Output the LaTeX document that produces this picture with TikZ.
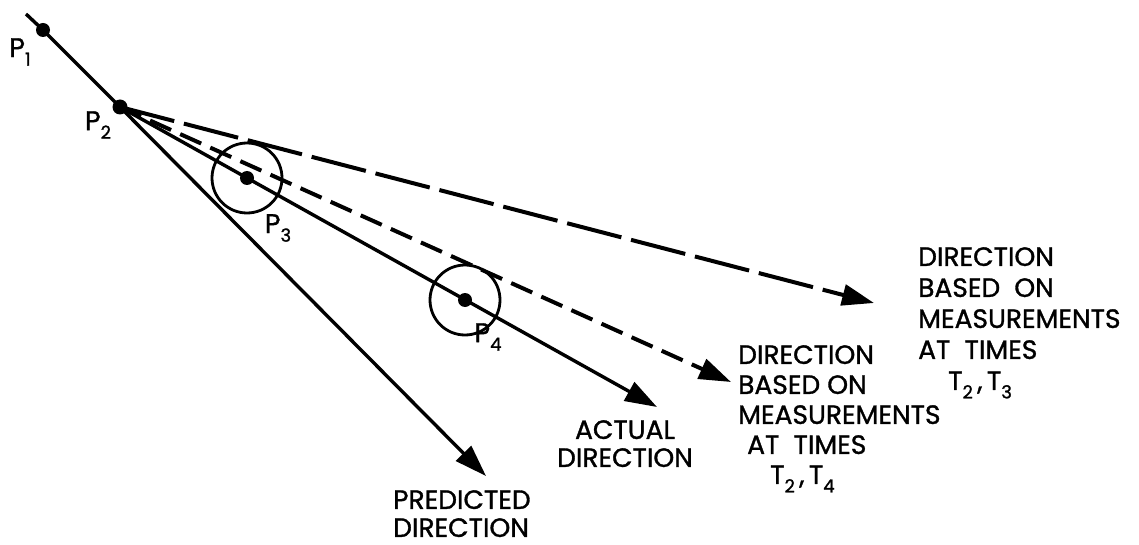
\documentclass[tikz,border=0pt]{standalone}
\usepackage{fontspec}
\setmainfont{Poppins}[FakeBold=1.2]
\usetikzlibrary{arrows.meta}
\newcommand\lowsub[1]{\raisebox{-0.32em}{\fontsize{18}{18}\selectfont #1}}
\begin{document}
\begin{tikzpicture}[x=1pt,y=-1pt,
  tip/.style={-{Triangle[length=32pt,width=21pt]}},
  solidline/.style={line width=3.4pt},
  solidarrow/.style={line width=3.4pt,tip},
  longdash/.style={line width=4pt,dash pattern=on 56pt off 10pt,tip},
  shortdash/.style={line width=4pt,dash pattern=on 23pt off 10pt,tip},
  dot/.style={circle,fill,inner sep=0pt,minimum size=14pt},
  ring/.style={circle,draw,line width=2.8pt,inner sep=0pt,minimum size=70pt},
  plabel/.style={inner sep=0pt,font=\fontsize{27}{27}\selectfont},
  txt/.style={inner sep=0pt,anchor=north west,align=left}
]
\useasboundingbox (0,0) rectangle (1139,545);
% points
\coordinate (s) at (26,14);
\node[dot] (p1) at (43,30) {};
\node[dot,minimum size=15pt] (p2) at (120,107) {};
\node[dot] (p3) at (247,178) {};
\node[dot] (p4) at (465,300) {};
\node[ring] (c3) at (p3) {};
\node[ring] (c4) at (p4) {};
% arrow tips
\coordinate (tpred) at (486,476);
\coordinate (tact) at (657,407);
\coordinate (tsd) at (731,382);
\coordinate (tld) at (874,303);
% lines
\draw[solidline] (s) -- (p1.center) -- (p2.center);
\draw[solidarrow] (p2.center) -- (tpred);
\draw[solidarrow] (p2.center) -- (tact);
\draw[shortdash] (p2.center) -- (tsd);
\draw[longdash] (p2.center) -- (tld);
% point labels
\node[plabel] (l1) at (20,52) {P\lowsub{1}};
\node[plabel] (l2) at (98,125) {P\lowsub{2}};
\node[plabel] (l3) at (278,228) {P\lowsub{3}};
\node[plabel] (l4) at (488,337) {P\lowsub{4}};
% texts
\node[txt,font=\fontsize{26.5}{31}\selectfont] (rt) at (918,247)
  {DIRECTION\\BASED\ \ ON\\MEASUREMENTS\\AT\ \ TIMES\\\hspace*{30pt}T\lowsub{2}\,,\,T\lowsub{3}};
\node[txt,font=\fontsize{26.5}{30}\selectfont] (lt) at (738,345)
  {DIRECTION\\BASED ON\\MEASUREMENTS\\\hspace*{9pt}AT\ \ TIMES\\\hspace*{32pt}T\lowsub{2}\,,\,T\lowsub{4}};
\node[inner sep=0pt,anchor=north,align=center,font=\fontsize{26.5}{28}\selectfont] (at) at (625,420)
  {ACTUAL\\DIRECTION};
\node[txt,font=\fontsize{26.5}{28}\selectfont] (pt) at (393,490)
  {PREDICTED\\DIRECTION};
\end{tikzpicture}
\end{document}
